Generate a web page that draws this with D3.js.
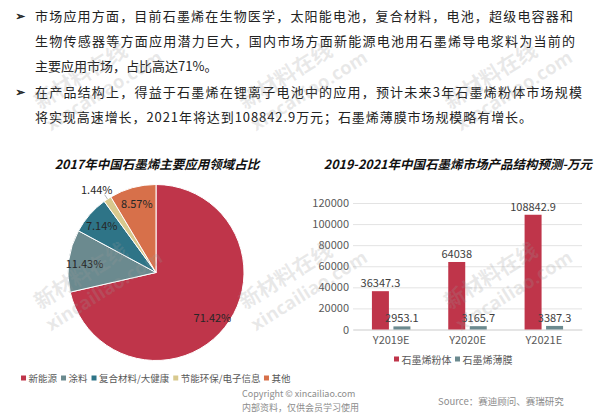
<!DOCTYPE html>
<html>
<head>
<meta charset="utf-8">
<script src="https://cdn.jsdelivr.net/npm/d3@7"></script>
<style>
  html, body { margin: 0; padding: 0; background: #fff; }
  svg { display: block; font-family: "Noto Sans CJK SC", "Noto Sans", sans-serif; }
</style>
</head>
<body>
<div id="chart"></div>
<script>
'use strict';

// paragraph text
const paraLines = [
  '市场应用方面，目前石墨烯在生物医学，太阳能电池，复合材料，电池，超级电容器和',
  '生物传感器等方面应用潜力巨大，国内市场方面新能源电池用石墨烯导电浆料为当前的',
  '主要应用市场，占比高达71%。',
  '在产品结构上，得益于石墨烯在锂离子电池中的应用，预计未来3年石墨烯粉体市场规模',
  '将实现高速增长，2021年将达到108842.9万元；石墨烯薄膜市场规模略有增长。'
];
const bulletLines = [0, 3];
const lineWidths = [538, 540, null, 547, 497];

// pie data
const pieTitle = '2017年中国石墨烯主要应用领域占比';
const pieCats = ['新能源', '涂料', '复合材料/大健康', '节能环保/电子信息', '其他'];
const pieValues = [71.42, 11.43, 7.14, 1.44, 8.57];
const pieColors = ['#bf354a', '#6b8a8f', '#2e7487', '#d8c98e', '#d7704a'];

// bar data
const barTitle = '2019-2021年中国石墨烯市场产品结构预测-万元';
const years = ['Y2019E', 'Y2020E', 'Y2021E'];
const seriesNames = ['石墨烯粉体', '石墨烯薄膜'];
const powder = [36347.3, 64038, 108842.9];
const film = [2953.1, 3165.7, 3387.3];
const yTicks = [0, 20000, 40000, 60000, 80000, 100000, 120000];
const barColors = ['#bf354a', '#6b8a8f'];

const W = 600, H = 413;

const svg = d3.select('#chart').append('svg')
    .attr('width', W)
    .attr('height', H);

svg.append('rect').attr('width', W).attr('height', H).attr('fill', '#fff');

/**
 * Top paragraph
 */
const para = svg.append('g').attr('fill', '#222');
paraLines.forEach(function(line, i) {
  const y = 20.5 + i * 25.4;
  const t = para.append('text')
      .attr('x', 35)
      .attr('y', y)
      .attr('font-size', 13)
      .text(line);
  if (lineWidths[i]) {
    t.attr('textLength', lineWidths[i])
     .attr('lengthAdjust', 'spacing');
  }
  if (bulletLines.includes(i)) {
    para.append('text')
        .attr('x', 15.5)
        .attr('y', y - 0.5)
        .attr('font-family', 'DejaVu Sans')
        .attr('font-size', 11.5)
        .attr('stroke', '#222')
        .attr('stroke-width', 0.5)
        .text('➢');
  }
});

/**
 * Pie chart
 */
const cx = 156, cy = 272.5, r = 88;

svg.append('text')
    .attr('x', 157)
    .attr('y', 169)
    .attr('text-anchor', 'middle')
    .attr('font-size', 12.5)
    .attr('font-weight', 'bold')
    .attr('font-style', 'italic')
    .attr('fill', '#111')
    .text(pieTitle);

const pie = d3.pie().sort(null).value(d => d)(pieValues);
const arc = d3.arc().innerRadius(0).outerRadius(r);
const labelArc = d3.arc().innerRadius(r * 0.82).outerRadius(r * 0.82);

const pieG = svg.append('g').attr('transform', `translate(${cx},${cy})`);

pieG.selectAll('path')
    .data(pie)
    .enter()
    .append('path')
    .attr('d', arc)
    .attr('fill', (d, i) => pieColors[i])
    .attr('stroke', '#fff')
    .attr('stroke-width', 1);

function polar(a, rad) {
  return [Math.sin(a) * rad, -Math.cos(a) * rad];
}

pie.forEach(function(d, i) {
  const mid = (d.startAngle + d.endAngle) / 2;
  let pos;
  if (pieValues[i] < 3) {
    // small slice: outside label with a leader line
    const p0 = polar(mid, r), p1 = polar(mid, r * 1.06);
    pieG.append('line')
        .attr('x1', p0[0]).attr('y1', p0[1])
        .attr('x2', p1[0]).attr('y2', p1[1])
        .attr('stroke', '#a6a6a6')
        .attr('stroke-width', 0.8);
    pos = polar(mid, r * 1.14);
    pos[0] -= 4;
  } else {
    pos = labelArc.centroid(d);
  }
  pieG.append('text')
      .attr('x', pos[0])
      .attr('y', pos[1])
      .attr('text-anchor', 'middle')
      .attr('dominant-baseline', 'central')
      .attr('font-size', 11)
      .attr('fill', '#262626')
      .text(pieValues[i].toFixed(2) + '%');
});

// legend helper: square + label, laid out left to right
function drawLegend(names, colors, fontSize) {
  const g = svg.append('g').attr('font-size', fontSize).attr('fill', '#595959');
  const it = g.selectAll('g')
      .data(names)
      .enter()
      .append('g');
  it.append('rect')
      .attr('width', 5).attr('height', 5)
      .attr('y', -2.5)
      .attr('fill', (d, i) => colors[i]);
  it.append('text')
      .attr('x', 7.5)
      .attr('dominant-baseline', 'central')
      .text(d => d);
  let acc = 0;
  const offs = [];
  it.each(function() {
    offs.push(acc);
    acc += this.getBBox().width + 3.5;
  });
  return {items: it, offs: offs, width: acc - 3.5};
}

const pl = drawLegend(pieCats, pieColors, 9.5);
const plStart = 156 - pl.width / 2;
pl.items.attr('transform', (d, i) => `translate(${plStart + pl.offs[i]},378)`);

/**
 * Bar chart
 */
svg.append('text')
    .attr('x', 458)
    .attr('y', 169)
    .attr('text-anchor', 'middle')
    .attr('font-size', 12.5)
    .attr('font-weight', 'bold')
    .attr('font-style', 'italic')
    .attr('fill', '#111')
    .text(barTitle);

const plotL = 353, plotR = 582;
const y = d3.scaleLinear().domain([0, 120000]).range([329.5, 203]);
const x0 = d3.scaleBand().domain(years).range([plotL, plotR]);
const x1 = d3.scaleBand().domain(seriesNames).range([0, x0.bandwidth()])
    .paddingInner(0.21).paddingOuter(0.88);

const yAxis = svg.append('g')
    .attr('transform', `translate(${plotL},0)`)
    .call(d3.axisLeft(y).tickValues(yTicks).tickFormat(d3.format('d'))
        .tickSize(-(plotR - plotL)).tickPadding(4))
    .call(g => g.select('.domain').remove());
yAxis.selectAll('.tick line').attr('stroke', '#e3e3e3');
yAxis.selectAll('.tick text')
    .attr('font-family', '"Noto Sans CJK SC", sans-serif')
    .attr('font-size', 11)
    .attr('fill', '#595959');

const xAxis = svg.append('g')
    .attr('transform', `translate(0,${y(0)})`)
    .call(d3.axisBottom(x0).tickSize(0).tickPadding(7))
    .call(g => g.select('.domain').attr('stroke', '#d9d9d9'));
xAxis.selectAll('.tick text')
    .attr('font-family', '"Noto Sans CJK SC", sans-serif')
    .attr('font-size', 11)
    .attr('fill', '#595959');

const barData = years.map((yr, i) => ({year: yr, values: [powder[i], film[i]]}));

const groups = svg.append('g')
    .selectAll('g')
    .data(barData)
    .enter()
    .append('g')
    .attr('transform', d => `translate(${x0(d.year)},0)`);

groups.selectAll('rect')
    .data(d => d.values)
    .enter()
    .append('rect')
    .attr('x', (v, i) => x1(seriesNames[i]))
    .attr('y', v => y(v))
    .attr('width', x1.bandwidth())
    .attr('height', v => y(0) - y(v))
    .attr('fill', (v, i) => barColors[i]);

groups.selectAll('text.val')
    .data(d => d.values)
    .enter()
    .append('text')
    .attr('class', 'val')
    .attr('x', (v, i) => x1(seriesNames[i]) + x1.bandwidth() / 2)
    .attr('y', v => y(v) - 4)
    .attr('text-anchor', 'middle')
    .attr('font-size', 11)
    .attr('fill', '#404040')
    .text(v => v);

const bl = drawLegend(seriesNames, barColors, 10);
bl.items.attr('transform', (d, i) => `translate(${394 + bl.offs[i]},359)`);

/**
 * Footer
 */
const foot = svg.append('g').attr('font-size', 9).attr('fill', '#8c8c8c');
foot.append('text').attr('x', 242).attr('y', 397).text('Copyright © xincailiao.com');
foot.append('text').attr('x', 242).attr('y', 410.5).text('内部资料，仅供会员学习使用');
foot.append('text').attr('x', 438).attr('y', 405).attr('font-size', 9.5).text('Source：赛迪顾问、赛瑞研究');

/**
 * Watermarks
 */
const marks = [[40, 110], [245, 110], [450, 110], [40, 310], [245, 310], [450, 310]];
const wm = svg.append('g')
    .attr('fill', '#9a9a9a')
    .attr('fill-opacity', 0.22)
    .attr('font-weight', 'bold')
    .attr('pointer-events', 'none');
marks.forEach(function(m) {
  const g = wm.append('g').attr('transform', `translate(${m[0]},${m[1]}) rotate(-32)`);
  g.append('text').attr('font-size', 21).text('新材料在线');
  g.append('text').attr('x', -2).attr('y', 24).attr('font-size', 18.5)
      .attr('font-family', '"Open Sans", sans-serif').text('xincailiao.com');
});
</script>
</body>
</html>
